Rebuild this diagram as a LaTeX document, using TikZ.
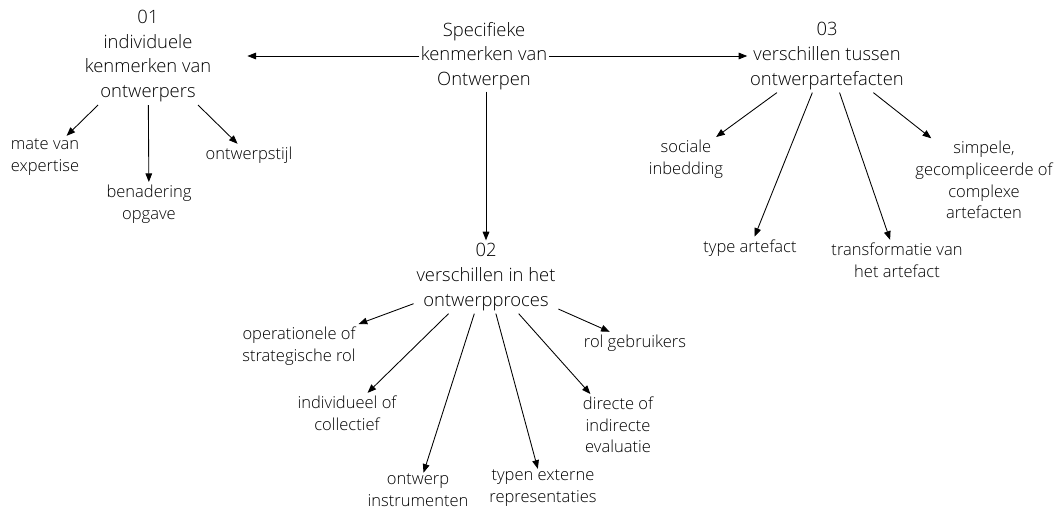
\documentclass[tikz,border=0pt]{standalone}
\usepackage{fontspec}
\setmainfont{Open Sans Light}
\usetikzlibrary{arrows.meta}
\begin{document}
\begin{tikzpicture}[x=0.75pt,y=-0.75pt,
  head/.style={align=center,inner sep=2pt,font=\fontsize{13.8}{18.6}\selectfont},
  leaf/.style={align=center,inner sep=2pt,font=\fontsize{12.4}{16.2}\selectfont},
  arr/.style={draw=black,line width=0.65pt,-{Triangle[length=6.5pt,width=5pt]}}]
\useasboundingbox (0,0) rectangle (1062,510);

% main topic and the three themes
\node[head,inner sep=1pt] (root) at (484,56) {Specifieke\\kenmerken van\\Ontwerpen};
\node[head] (n01) at (148,56) {01\\individuele\\kenmerken van\\ontwerpers};
\node[head] (n02) at (486,277) {02\\verschillen in het\\ontwerpproces};
\node[head] (n03) at (827,56) {03\\verschillen tussen\\ontwerpartefacten};

% aspects of theme 01
\node[leaf] (l11) at (45,157) {mate van\\expertise};
\node[leaf] (l12) at (149,204) {benadering\\opgave};
\node[leaf] (l13) at (249,155) {ontwerpstijl};

% aspects of theme 03
\node[leaf] (l31) at (686,159) {sociale\\inbedding};
\node[leaf] (l32) at (750,248) {type artefact};
\node[leaf] (l33) at (897,260) {transformatie van\\het artefact};
\node[leaf] (l34) at (984,180) {simpele,\\gecompliceerde of\\complexe\\artefacten};

% aspects of theme 02
\node[leaf] (l21) at (299,346) {operationele of\\strategische rol};
\node[leaf] (l22) at (347,413) {individueel of\\collectief};
\node[leaf,inner sep=0.5pt] (l23) at (418,490) {ontwerp\\instrumenten};
\node[leaf,inner sep=0.5pt] (l24) at (543,488) {typen externe\\representaties};
\node[leaf] (l25) at (618,425) {directe of\\indirecte\\evaluatie};
\node[leaf] (l26) at (635,343) {rol gebruikers};

% connectors
\draw[arr,shorten >=25pt] (root.west) -- (root.west -| n01.east);
\draw[arr] (root.east) -- (root.east -| n03.west);
\draw[arr] (root.south -| n02.north) -- (n02.north);

\foreach \c in {l11,l12,l13} \draw[arr] (n01) -- (\c);
\foreach \c in {l21,l22,l23,l24,l25,l26} \draw[arr] (n02) -- (\c);
\foreach \c in {l31,l32,l33,l34} \draw[arr] (n03) -- (\c);
\end{tikzpicture}
\end{document}
